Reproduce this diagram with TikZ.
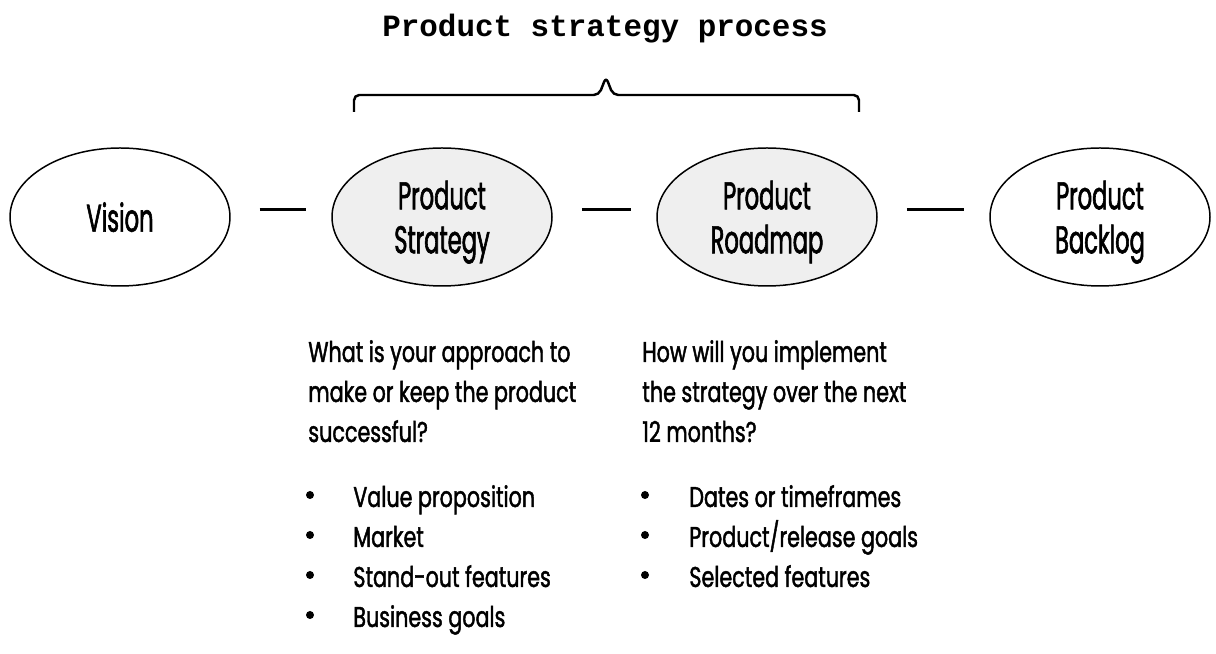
\documentclass[tikz,border=0pt]{standalone}
\usepackage{fontspec}
\setmainfont{Poppins}[FakeStretch=0.722, FakeBold=1.5]
\newfontfamily\stagefont{Poppins}[FakeStretch=0.585, FakeBold=1.5]
\newfontfamily\titlefont{Liberation Mono}
\usetikzlibrary{shapes.geometric}
\definecolor{stagegray}{HTML}{EFEFEF}
\tikzset{
  stage/.style={draw, ellipse, line width=0.85pt, minimum width=4.4cm,
    minimum height=2.76cm, align=center, inner sep=0pt, text depth=0pt,
    font=\fontsize{22}{25}\selectfont\stagefont},
  current/.style={stage, fill=stagegray},
  link/.style={line width=1.7pt, shorten <=0.58cm, shorten >=0.5cm},
  textline/.style={anchor=base west, inner sep=0pt,
    font=\fontsize{16.3}{19}\selectfont},
  dot/.style={circle, fill, inner sep=0pt, minimum size=0.16cm}
}

\begin{document}
\begin{tikzpicture}
  \useasboundingbox (0,0) rectangle (24.32,13.08);

  % title and brace
  \node [anchor=base, inner sep=0pt,
    font=\fontsize{17.6}{20}\selectfont\titlefont\bfseries] (title) at (12.1,12.34)
    {Product strategy process};
  \draw [line width=1.4pt, rounded corners=3pt] (7.08,10.84) -- (7.08,11.18)
    -- (11.98,11.18) -- (12.12,11.54) -- (12.26,11.18) -- (17.18,11.18) -- (17.18,10.84);

  % stages
  \node [stage] (vision) at (2.4,8.74) {Vision};
  \node [current] (strategy) at (8.84,8.74) {Product\\Strategy};
  \node [current] (roadmap) at (15.34,8.74) {Product\\Roadmap};
  \node [stage] (backlog) at (22.0,8.74) {Product\\Backlog};

  \draw [link] ([yshift=0.14cm]vision.east) -- ([yshift=0.14cm]strategy.west);
  \draw [link] ([yshift=0.14cm]strategy.east) -- ([yshift=0.14cm]roadmap.west);
  \draw [link] ([yshift=0.14cm]roadmap.east) -- ([yshift=0.14cm]backlog.west);

  % strategy notes
  \foreach \txt [count=\i] in {What is your approach to, make or keep the product, successful?}
    \node [textline] (approach\i) at (6.16,6.64-0.8*\i) {\txt};
  \foreach \txt [count=\i] in {Value proposition, Market, Stand-out features, Business goals} {
    \node [dot] (approachdot\i) at (6.2,3.98-0.8*\i) {};
    \node [textline] (approachitem\i) at (7.06,3.74-0.8*\i) {\txt};
  }

  % roadmap notes
  \foreach \txt [count=\i] in {How will you implement, the strategy over the next, 12 months?}
    \node [textline] (plan\i) at (12.84,6.64-0.8*\i) {\txt};
  \foreach \txt [count=\i] in {Dates or timeframes, Product/release goals, Selected features} {
    \node [dot] (plandot\i) at (12.9,3.98-0.8*\i) {};
    \node [textline] (planitem\i) at (13.78,3.74-0.8*\i) {\txt};
  }
\end{tikzpicture}
\end{document}
